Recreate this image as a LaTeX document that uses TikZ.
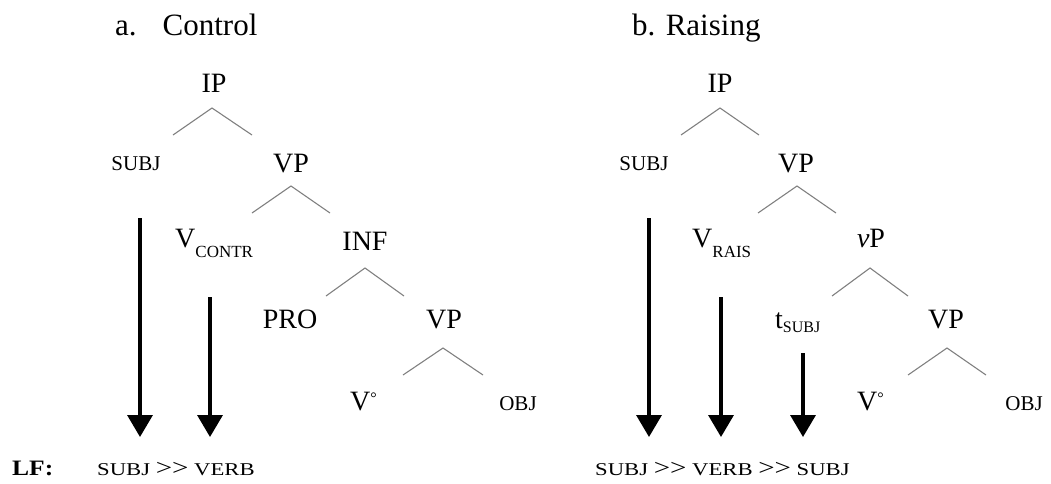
\documentclass[tikz,border=0pt]{standalone}
\usepackage{graphicx}
\usepackage{fontspec}
\setmainfont{Liberation Serif}
\usetikzlibrary{arrows.meta}

\newcommand{\fsz}[1]{\fontsize{#1}{#1}\selectfont}
\newcommand{\vdeg}{V\raisebox{7pt}{\fsz{16}°}}
\newcommand{\outscopes}{{\fsz{23}>{}>}}

\tikzset{
  lab/.style={font=\fsz{28},inner sep=0pt,anchor=base},
  small/.style={font=\fsz{21},inner sep=0pt,anchor=base},
  branch/.style={draw=gray,line width=1.1pt},
  lfarrow/.style={-{Triangle[width=25pt,length=22pt]},line width=3.5pt}
}

\begin{document}
\begin{tikzpicture}[x=1pt,y=-1pt]
  \useasboundingbox (0,0) rectangle (1051,483);

  % a. Control
  \node[lab,anchor=base west,font=\fsz{31}] (titleA) at (115,35) {a.\hspace{26pt}Control};
  \node[lab] (ipA) at (214,92) {IP};
  \node[small] (subjA) at (136,170) {SUBJ};
  \node[lab] (vpA) at (291,172) {VP};
  \node[lab,anchor=base west] (vcontr) at (175,247) {V\raisebox{-10pt}{\fsz{17}CONTR}};
  \node[lab] (inf) at (365,250) {INF};
  \node[lab] (pro) at (290,328) {PRO};
  \node[lab] (vpAA) at (444,328) {VP};
  \node[lab,anchor=base west] (vdegA) at (350,410) {\vdeg};
  \node[small] (objA) at (518,410) {OBJ};

  \coordinate (ipAk) at (212,108);
  \coordinate (vpAk) at (291,186);
  \coordinate (infk) at (365,268);
  \coordinate (vpAAk) at (443,348);
  \draw[branch] (ipAk) ++(-39,27) -- (ipAk) -- ++(40,27);
  \draw[branch] (vpAk) ++(-39,27) -- (vpAk) -- ++(39,27);
  \draw[branch] (infk) ++(-39,28) -- (infk) -- ++(39,28);
  \draw[branch] (vpAAk) ++(-40,27) -- (vpAAk) -- ++(40,27);

  \node[lab,anchor=base west,font=\bfseries\fsz{22}] (lf) at (12,475) {\scalebox{1.16}[1]{LF:}};
  \node[lab,anchor=base west,font=\fsz{18}] (lfA) at (97,475) {\scalebox{1.26}[1]{SUBJ \outscopes{} VERB}};

  \coordinate (subjAt) at (140,218);
  \coordinate (subjAb) at (140,437);
  \coordinate (vcontrt) at (210,297);
  \coordinate (vcontrb) at (210,437);
  \draw[lfarrow] (subjAt) -- (subjAb);
  \draw[lfarrow] (vcontrt) -- (vcontrb);

  % b. Raising
  \node[lab,anchor=base west,font=\fsz{31}] (titleB) at (632,35) {b. Raising};
  \node[lab] (ipB) at (720,92) {IP};
  \node[small] (subjB) at (644,170) {SUBJ};
  \node[lab] (vpB) at (796,172) {VP};
  \node[lab,anchor=base west] (vrais) at (692,247) {V\raisebox{-10pt}{\fsz{17}RAIS}};
  \node[lab] (littlevp) at (871,247) {\textit{v}P};
  \node[lab,anchor=base west] (tsubj) at (775,328) {t\raisebox{-4pt}{\fsz{16}SUBJ}};
  \node[lab] (vpBB) at (946,328) {VP};
  \node[lab,anchor=base west] (vdegB) at (857,410) {\vdeg};
  \node[small] (objB) at (1024,410) {OBJ};

  \coordinate (ipBk) at (720,108);
  \coordinate (vpBk) at (797,186);
  \coordinate (littlevpk) at (870,268);
  \coordinate (vpBBk) at (947,348);
  \draw[branch] (ipBk) ++(-39,27) -- (ipBk) -- ++(39,27);
  \draw[branch] (vpBk) ++(-39,27) -- (vpBk) -- ++(39,27);
  \draw[branch] (littlevpk) ++(-38,28) -- (littlevpk) -- ++(38,28);
  \draw[branch] (vpBBk) ++(-39,27) -- (vpBBk) -- ++(39,27);

  \node[lab,anchor=base west,font=\fsz{18}] (lfB) at (595,475) {\scalebox{1.26}[1]{SUBJ \outscopes{} VERB \outscopes{} SUBJ}};

  \coordinate (subjBt) at (649,218);
  \coordinate (subjBb) at (649,437);
  \coordinate (vraist) at (721,297);
  \coordinate (vraisb) at (721,437);
  \coordinate (tsubjt) at (803,353);
  \coordinate (tsubjb) at (803,437);
  \draw[lfarrow] (subjBt) -- (subjBb);
  \draw[lfarrow] (vraist) -- (vraisb);
  \draw[lfarrow] (tsubjt) -- (tsubjb);
\end{tikzpicture}
\end{document}
